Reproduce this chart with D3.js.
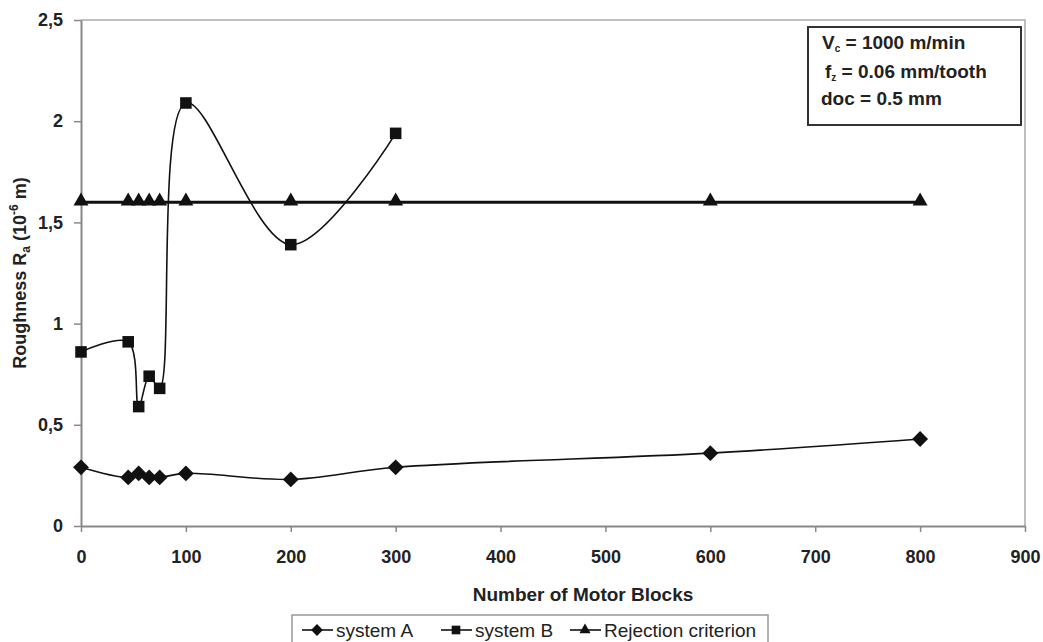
<!DOCTYPE html>
<html>
<head>
<meta charset="utf-8">
<script src="https://cdn.jsdelivr.net/npm/d3@7"></script>
<style>
  body { margin: 0; background: #fff; }
  text { font-family: "Liberation Sans", Arial, sans-serif; fill: #222; }
</style>
</head>
<body>
<div id="chart"></div>
<script>
// data
const blocks = [0, 45, 55, 65, 75, 100, 200, 300, 600, 800];
const systemA = [0.29, 0.24, 0.26, 0.24, 0.24, 0.26, 0.23, 0.29, 0.36, 0.43];
const blocksB = [0, 45, 55, 65, 75, 100, 200, 300];
const systemB = [0.86, 0.91, 0.59, 0.74, 0.68, 2.09, 1.39, 1.94];
const rejection = [1.6, 1.6, 1.6, 1.6, 1.6, 1.6, 1.6, 1.6, 1.6, 1.6];
const xTicks = [0, 100, 200, 300, 400, 500, 600, 700, 800, 900];
const yTicks = [0, 0.5, 1, 1.5, 2, 2.5];
const notes = ["V|c| = 1000 m/min", "f|z| = 0.06 mm/tooth", "doc = 0.5 mm"];

const W = 1043, H = 642;
const svg = d3.select("#chart").append("svg")
    .attr("width", W)
    .attr("height", H);

const x = d3.scaleLinear().domain([0, 900]).range([81, 1025]);
const y = d3.scaleLinear().domain([0, 2.5]).range([526, 20]);
const fmt = v => String(v).replace(".", ",");

// frame (top and right)
svg.append("path")
    .attr("d", `M${x(0)},${y(2.5)}H${x(900)}V${y(0)}`)
    .attr("fill", "none")
    .attr("stroke", "#aaa")
    .attr("stroke-width", 1.5);

// axes
const xAxis = svg.append("g")
    .attr("transform", `translate(0,${y(0)})`)
    .call(d3.axisBottom(x).tickValues(xTicks).tickSize(6).tickPadding(18).tickSizeOuter(0));
const yAxis = svg.append("g")
    .attr("transform", `translate(${x(0)},0)`)
    .call(d3.axisLeft(y).tickValues(yTicks).tickSize(7).tickPadding(11).tickFormat(fmt).tickSizeOuter(0));
[xAxis, yAxis].forEach(g => {
  g.select(".domain").attr("stroke", "#888").attr("stroke-width", 2);
  g.selectAll(".tick line").attr("stroke", "#888").attr("stroke-width", 1.5);
  g.selectAll(".tick text")
      .attr("font-size", 18)
      .attr("font-weight", "bold")
      .attr("fill", "#222")
      .style("font-family", "'Liberation Sans', Arial, sans-serif");
});

// axis titles
svg.append("text")
    .attr("x", 583).attr("y", 601)
    .attr("text-anchor", "middle")
    .attr("font-size", 19).attr("font-weight", "bold")
    .text("Number of Motor Blocks");

const yt = svg.append("text")
    .attr("transform", `translate(26,${(y(0) + y(2.5)) / 2}) rotate(-90)`)
    .attr("text-anchor", "middle")
    .attr("font-size", 18).attr("font-weight", "bold");
yt.append("tspan").text("Roughness R");
yt.append("tspan").attr("font-size", 12).attr("dy", 4).text("a");
yt.append("tspan").attr("dy", -4).text(" (10");
yt.append("tspan").attr("font-size", 12).attr("dy", -8).text("-6");
yt.append("tspan").attr("dy", 8).text(" m)");

// markers
const diamond = d3.symbol().type(d3.symbolDiamond2).size(160);
const square = d3.symbol().type(d3.symbolSquare2).size(170);
const triangle = d3.symbol().type(d3.symbolTriangle2).size(160);

const smooth = d3.line().x(d => x(d[0])).y(d => y(d[1])).curve(d3.curveCatmullRom.alpha(0.5));
const straight = d3.line().x(d => x(d[0])).y(d => y(d[1]));

const dataA = blocks.map((b, i) => [b, systemA[i]]);
const dataB = blocksB.map((b, i) => [b, systemB[i]]);
const dataR = blocks.map((b, i) => [b, rejection[i]]);

svg.append("path").attr("d", straight(dataR))
    .attr("fill", "none").attr("stroke", "#111").attr("stroke-width", 3);
svg.append("path").attr("d", smooth(dataA))
    .attr("fill", "none").attr("stroke", "#111").attr("stroke-width", 1.6);
svg.append("path").attr("d", smooth(dataB))
    .attr("fill", "none").attr("stroke", "#111").attr("stroke-width", 1.6);

function marks(data, sym, dy) {
  svg.append("g").selectAll("path")
      .data(data)
      .enter()
      .append("path")
      .attr("d", sym)
      .attr("transform", d => `translate(${x(d[0])},${y(d[1]) + (dy || 0)})`)
      .attr("fill", "#111");
}
marks(dataR, triangle, -1);
marks(dataA, diamond);
marks(dataB, square);

// annotation box
svg.append("rect")
    .attr("x", 808).attr("y", 27).attr("width", 213).attr("height", 98)
    .attr("fill", "#fff").attr("stroke", "#333").attr("stroke-width", 2);
notes.forEach((n, i) => {
  const parts = n.split("|");
  const t = svg.append("text")
      .attr("x", [822, 825, 821][i]).attr("y", [49, 78, 105][i])
      .attr("font-size", 19).attr("font-weight", "bold");
  t.append("tspan").text(parts[0]);
  if (parts.length > 1) {
    t.append("tspan").attr("font-size", 10).attr("dy", 3).text(parts[1]);
    t.append("tspan").attr("dy", -3).text(parts[2]);
  }
});

// legend
svg.append("rect")
    .attr("x", 292).attr("y", 615).attr("width", 476).attr("height", 40)
    .attr("fill", "none").attr("stroke", "#999").attr("stroke-width", 1.5);
const legendItems = [
  { name: "system A", sym: diamond, x0: 302 },
  { name: "system B", sym: square, x0: 441 },
  { name: "Rejection criterion", sym: triangle, x0: 570 }
];
legendItems.forEach(it => {
  const g = svg.append("g");
  g.append("line")
      .attr("x1", it.x0).attr("x2", it.x0 + 31)
      .attr("y1", 630).attr("y2", 630)
      .attr("stroke", "#111").attr("stroke-width", 1.6);
  g.append("path").attr("d", it.sym)
      .attr("transform", `translate(${it.x0 + 15},630) scale(0.75)`)
      .attr("fill", "#111");
  g.append("text")
      .attr("x", it.x0 + 34).attr("y", 637)
      .attr("font-size", 19)
      .text(it.name);
});
</script>
</body>
</html>
